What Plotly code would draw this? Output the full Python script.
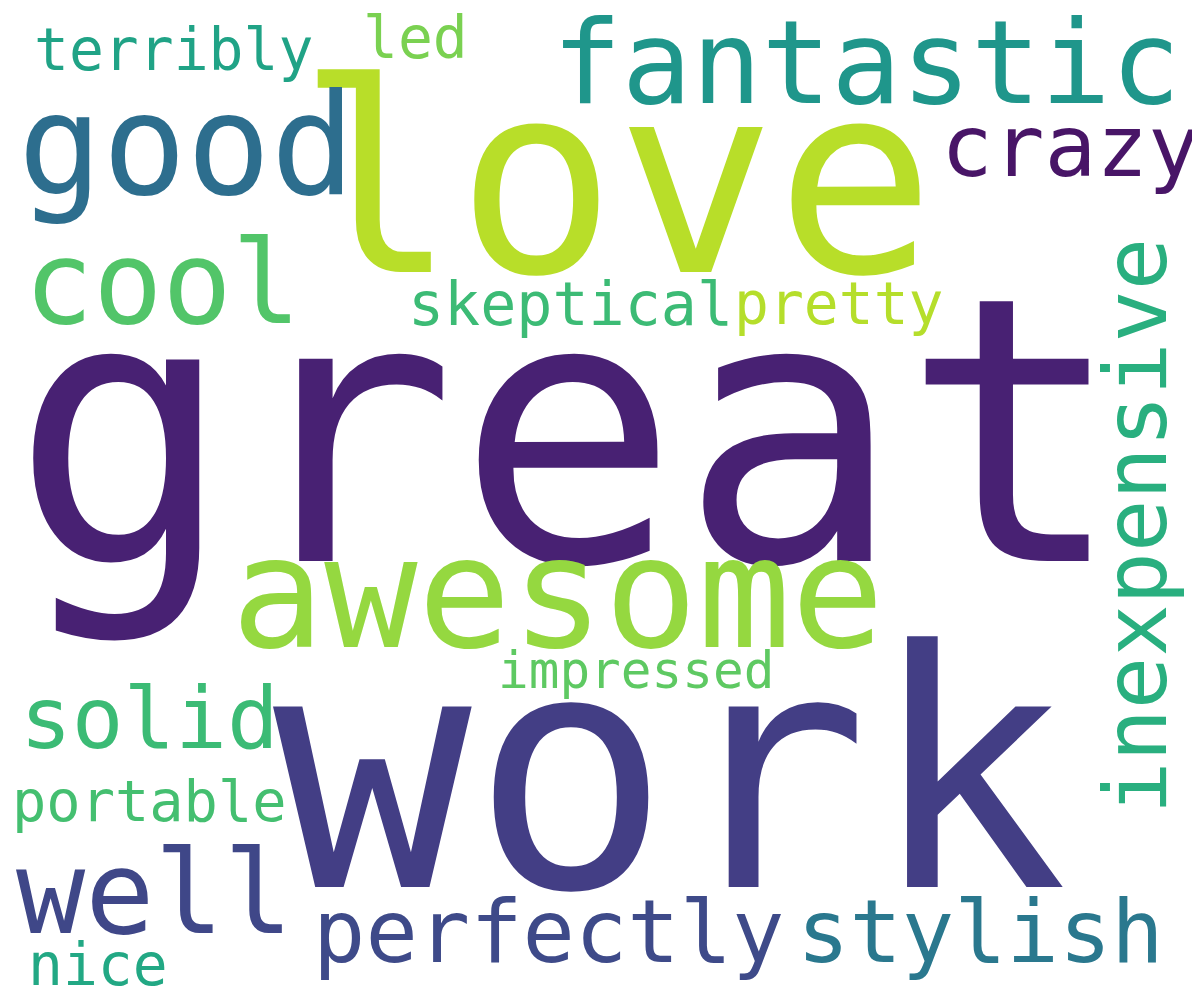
import plotly.graph_objects as go

words = ["great","love","work","awesome","fantastic","good","cool","crazy","terribly","led",
         "skeptical","pretty","inexpensive","impressed","solid","portable","well","perfectly","stylish","nice"]
xs = [560,608,662,549,858,178,154,1062,165,407,562,831,1128,628,141,141,146,540,972,90]
ys = [425,172,765,585,54,137,275,138,42,30,296,296,518,662,710,793,885,924,924,957]
sizes = [370,265,330,155,116,140,115,86,58,58,60,58,87,51,86,57,115,87,87,58]
colors = ["#482173","#B8DE29","#433E85","#95D840","#1F968B","#2D6E8E","#52C569","#481567",
          "#20A386","#7AD151","#3CBB75","#B5DE2B","#29AF7F","#5EC962","#3BBB75","#44BF70",
          "#3F4788","#3E4A89","#2A788E","#22A884"]
angles = [0,0,0,0,0,0,0,0,0,0,0,0,-90,0,0,0,0,0,0,0]

fig = go.Figure()
for w, x, y, s, c, a in zip(words, xs, ys, sizes, colors, angles):
    fig.add_annotation(x=x, y=y, text=w, showarrow=False, textangle=a,
                       xanchor="center", yanchor="middle",
                       font=dict(family="DejaVu Sans Mono", size=s, color=c))
fig.update_xaxes(range=[0,1200], visible=False)
fig.update_yaxes(range=[1000,0], visible=False)
fig.update_layout(width=1200, height=1000, margin=dict(l=0,r=0,t=0,b=0),
                  plot_bgcolor="white", paper_bgcolor="white")
fig.write_html("out.html")
